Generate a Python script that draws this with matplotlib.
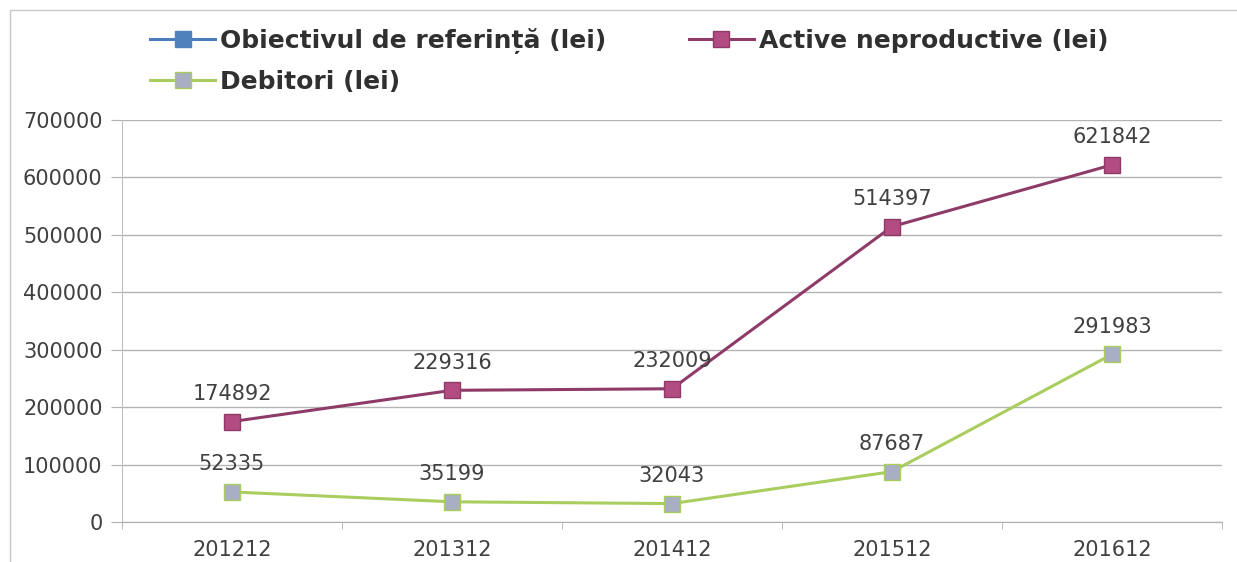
import numpy as np
import matplotlib
matplotlib.use('Agg')
import matplotlib.pyplot as plt
import matplotlib.patches as mpatches
from matplotlib.lines import Line2D

plt.rcParams['font.family'] = ['DejaVu Sans']

# date
perioade = ['201212', '201312', '201412', '201512', '201612']
obiectiv = []  # fara valori in grafic
active = [174892, 229316, 232009, 514397, 621842]
debitori = [52335, 35199, 32043, 87687, 291983]

c_blue = '#4A7EBB'
c_blue_m = '#4F81BD'
c_purple = '#8E3B68'
c_purple_m = '#B24C82'
c_green = '#A9CD5E'
c_green_m = '#A9AFC2'
c_text = '#404040'

W, H = 1237, 562
fig = plt.figure(figsize=(W / 100, H / 100), dpi=100)
fig.patch.set_facecolor('white')

# chenarul graficului
fig.add_artist(mpatches.Rectangle((10 / W, -0.1), 2, 1.1 - 10 / H,
                                  transform=fig.transFigure, fill=False,
                                  edgecolor='#c8c8c8', linewidth=1))

ax = fig.add_axes([122 / W, 1 - 522 / H, (1222 - 122) / W, (522 - 120) / H])
x = np.arange(len(perioade))

ax.plot(obiectiv, obiectiv, color=c_blue, lw=2.2, marker='s', ms=11,
        mfc=c_blue_m, mec=c_blue_m)
ax.plot(x, active, color=c_purple, lw=2.2, marker='s', ms=12,
        mfc=c_purple_m, mec=c_purple)
ax.plot(x, debitori, color=c_green, lw=2.2, marker='s', ms=12,
        mfc=c_green_m, mec=c_green)

for serie in (active, debitori):
    for xi, v in zip(x, serie):
        ax.annotate(str(v), (xi, v), xytext=(0, 20), textcoords='offset points',
                    ha='center', va='center', fontsize=15, color=c_text)

ax.set_xlim(-0.5, len(perioade) - 0.5)
ax.set_ylim(0, 700000)
ax.set_yticks(np.arange(0, 700001, 100000))
ax.set_yticklabels([str(v) for v in range(0, 700001, 100000)],
                   fontsize=15, color=c_text)
ax.set_xticks(x)
ax.set_xticklabels(perioade, fontsize=15, color=c_text)
ax.set_xticks(np.arange(-0.5, len(perioade), 1), minor=True)
ax.tick_params(axis='x', which='major', length=0, pad=13)
ax.tick_params(axis='x', which='minor', length=5, color='#b0b0b0')
ax.tick_params(axis='y', length=8, color='#b0b0b0', pad=6)

ax.grid(axis='y', color='#b4b4b4', linewidth=1)
ax.set_axisbelow(True)
for s in ['top', 'right']:
    ax.spines[s].set_visible(False)
ax.spines['left'].set_color('#c0c0c0')
ax.spines['bottom'].set_color('#b0b0b0')

# legenda
handles = [
    Line2D([], [], color=c_blue, lw=2.2, marker='s', ms=11, mfc=c_blue_m, mec=c_blue_m),
    Line2D([], [], color=c_green, lw=2.2, marker='s', ms=11, mfc=c_green_m, mec=c_green),
    Line2D([], [], color=c_purple, lw=2.2, marker='s', ms=11, mfc=c_purple_m, mec=c_purple),
]
labels = ['Obiectivul de referință (lei)', 'Debitori (lei)', 'Active neproductive (lei)']
leg = fig.legend(handles, labels, ncol=2, loc='upper left',
                 bbox_to_anchor=(150 / W, 1 - 28 / H), frameon=False,
                 prop={'size': 18, 'weight': 'bold'}, handlelength=2.6,
                 handletextpad=0.2, columnspacing=3.3, labelspacing=0.62,
                 borderaxespad=0, borderpad=0)
for t in leg.get_texts():
    t.set_color('#303030')

fig.savefig('out.png', dpi=100, facecolor='white')
